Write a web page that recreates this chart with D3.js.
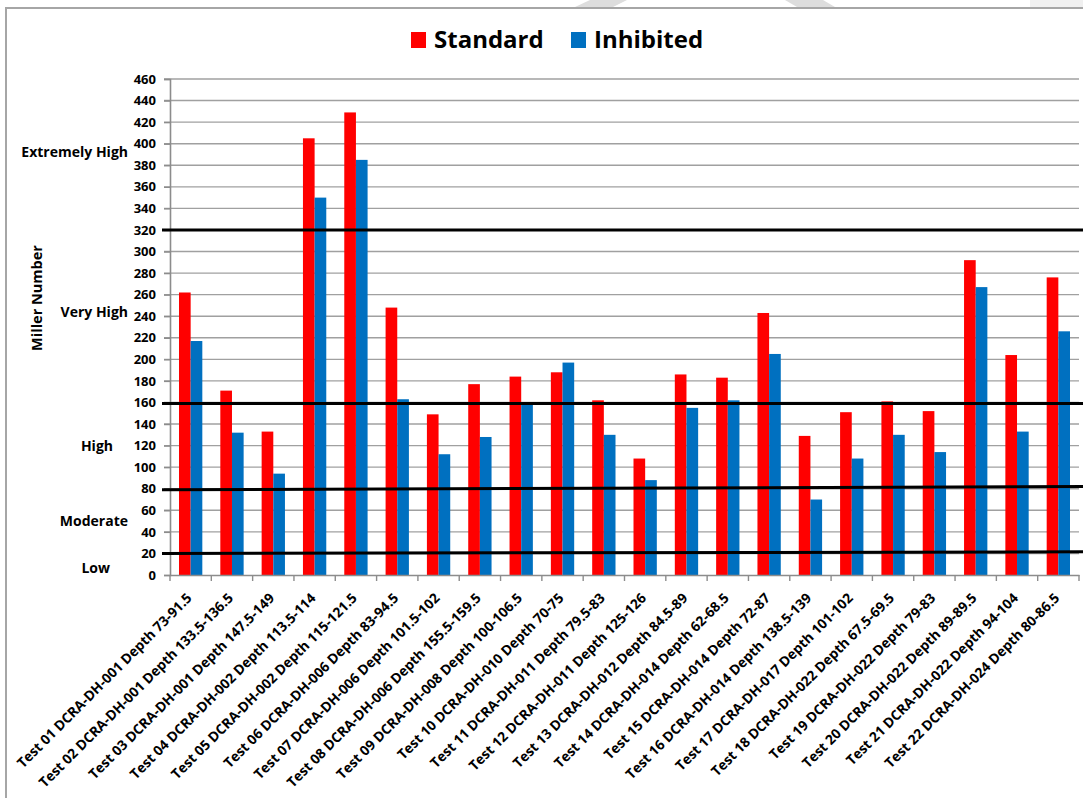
<!DOCTYPE html>
<html>
<head>
<meta charset="utf-8">
<script src="https://cdn.jsdelivr.net/npm/d3@7"></script>
<style>
	html, body { margin: 0; padding: 0; background: #fff; }
	svg { display: block; font-family: "Open Sans", "Noto Sans", sans-serif; font-weight: bold; }
</style>
</head>
<body>
<svg id="chart" width="1083" height="798"></svg>
<script>
const tests = [
	"Test 01 DCRA-DH-001 Depth 73-91.5",
	"Test 02 DCRA-DH-001 Depth 133.5-136.5",
	"Test 03 DCRA-DH-001 Depth 147.5-149",
	"Test 04 DCRA-DH-002 Depth 113.5-114",
	"Test 05 DCRA-DH-002 Depth 115-121.5",
	"Test 06 DCRA-DH-006 Depth 83-94.5",
	"Test 07 DCRA-DH-006 Depth 101.5-102",
	"Test 08 DCRA-DH-006 Depth 155.5-159.5",
	"Test 09 DCRA-DH-008 Depth 100-106.5",
	"Test 10 DCRA-DH-010 Depth 70-75",
	"Test 11 DCRA-DH-011 Depth 79.5-83",
	"Test 12 DCRA-DH-011 Depth 125-126",
	"Test 13 DCRA-DH-012 Depth 84.5-89",
	"Test 14 DCRA-DH-014 Depth 62-68.5",
	"Test 15 DCRA-DH-014 Depth 72-87",
	"Test 16 DCRA-DH-014 Depth 138.5-139",
	"Test 17 DCRA-DH-017 Depth 101-102",
	"Test 18 DCRA-DH-022 Depth 67.5-69.5",
	"Test 19 DCRA-DH-022 Depth 79-83",
	"Test 20 DCRA-DH-022 Depth 89-89.5",
	"Test 21 DCRA-DH-022 Depth 94-104",
	"Test 22 DCRA-DH-024 Depth 80-86.5"
];

const standard = [262, 171, 133, 405, 429, 248, 149, 177, 184, 188, 162, 108, 186, 183, 243, 129, 151, 161, 152, 292, 204, 276];
const inhibited = [217, 132, 94, 350, 385, 163, 112, 128, 159, 197, 130, 88, 155, 162, 205, 70, 108, 130, 114, 267, 133, 226];

const seriesNames = ["Standard", "Inhibited"];
const seriesColors = ["#ff0000", "#0070c0"];

const yTicks = d3.range(0, 461, 20);

// class boundaries drawn by hand on the original: [left value, right value]
const boundaries = [[320, 320], [159, 159], [79, 82], [20, 21.5]];

const zoneNames = ["Extremely High", "Very High", "High", "Moderate", "Low"];
const zoneValues = [392, 244, 120, 50, 6];

const svg = d3.select("#chart");

const margin = {top: 79, right: 4, bottom: 223, left: 170};
const width = 1083 - margin.left - margin.right;
const height = 798 - margin.top - margin.bottom;

// frame and faint decorations at the top edge
svg.append("polygon").attr("points", "590,0 627,0 613,7 575,7").attr("fill", "#dddddd");
svg.append("polygon").attr("points", "785,0 823,0 835,7 797,7").attr("fill", "#dddddd");
svg.append("rect").attr("x", 1030).attr("y", 0).attr("width", 53).attr("height", 7).attr("fill", "#f0f0f0");
svg.append("path").attr("d", "M6,798V8H1083").attr("fill", "none").attr("stroke", "#a6a6a6").attr("stroke-width", 2);

const g = svg.append("g").attr("transform", `translate(${margin.left},${margin.top})`);

const x = d3.scaleBand().domain(tests).range([0, width]);
const xs = d3.scaleBand().domain(seriesNames).range([9, x.bandwidth() - 9]);
const y = d3.scaleLinear().domain([0, 460]).range([height, 0]);

// gridlines
g.append("g")
	.selectAll("line")
	.data(yTicks.slice(1))
	.join("line")
	.attr("x1", -6)
	.attr("x2", width)
	.attr("y1", d => y(d))
	.attr("y2", d => y(d))
	.attr("stroke", "#a0a0a0")
	.attr("stroke-width", 1.4);

// bars
const groups = g.append("g")
	.selectAll("g")
	.data(tests)
	.join("g")
	.attr("transform", d => `translate(${x(d)},0)`);

groups.selectAll("rect")
	.data((d, i) => [standard[i], inhibited[i]].map((v, k) => ({key: seriesNames[k], v, k})))
	.join("rect")
	.attr("x", d => xs(d.key))
	.attr("width", xs.bandwidth())
	.attr("y", d => y(d.v))
	.attr("height", d => height - y(d.v))
	.attr("fill", d => seriesColors[d.k]);

// y axis
const yAxis = g.append("g")
	.call(d3.axisLeft(y).tickValues(yTicks).tickSize(6).tickPadding(8));
yAxis.select(".domain").attr("stroke", "#8c8c8c").attr("stroke-width", 1.6);
yAxis.selectAll(".tick line").attr("stroke", "#8c8c8c").attr("stroke-width", 1.4);
yAxis.selectAll("text").attr("font-size", 13).attr("font-weight", "bold").attr("fill", "#000")
	.attr("font-family", "'Open Sans', 'Noto Sans', sans-serif");

// x axis
const xAxis = g.append("g")
	.attr("transform", `translate(0,${height})`)
	.call(d3.axisBottom(x).tickSize(0).tickFormat(""));
xAxis.select(".domain").attr("stroke", "#8c8c8c").attr("stroke-width", 1.6);

g.append("g")
	.selectAll("line")
	.data(d3.range(tests.length + 1))
	.join("line")
	.attr("x1", i => i * x.step())
	.attr("x2", i => i * x.step())
	.attr("y1", height)
	.attr("y2", height + 6)
	.attr("stroke", "#8c8c8c")
	.attr("stroke-width", 1.4);

g.append("g")
	.selectAll("text")
	.data(tests)
	.join("text")
	.attr("transform", d => `translate(${x(d) + x.bandwidth() / 2 + 2},${height + 24}) rotate(-45)`)
	.attr("text-anchor", "end")
	.attr("font-size", 13.8)
	.attr("fill", "#000")
	.text(d => d);

// class boundaries
g.append("g")
	.selectAll("line")
	.data(boundaries)
	.join("line")
	.attr("x1", -8)
	.attr("x2", width + margin.right)
	.attr("y1", d => y(d[0]))
	.attr("y2", d => y(d[1]))
	.attr("stroke", "#000")
	.attr("stroke-width", 3);

// zone labels
const zoneRight = {"High": 113, "Low": 110};
svg.append("g")
	.selectAll("text")
	.data(zoneNames)
	.join("text")
	.attr("x", d => zoneRight[d] || 128)
	.attr("y", (d, i) => margin.top + y(zoneValues[i]))
	.attr("dy", "0.35em")
	.attr("text-anchor", "end")
	.attr("font-size", 14)
	.attr("fill", "#000")
	.text(d => d);

svg.append("text")
	.attr("transform", `translate(42,298) rotate(-90)`)
	.attr("text-anchor", "middle")
	.attr("font-size", 14.5)
	.attr("fill", "#000")
	.text("Miller Number");

// legend
const legendX = [411, 571];
const legend = svg.append("g")
	.selectAll("g")
	.data(seriesNames)
	.join("g")
	.attr("transform", (d, i) => `translate(${legendX[i]},32)`);

legend.append("rect")
	.attr("width", 15)
	.attr("height", 16)
	.attr("fill", (d, i) => seriesColors[i]);

legend.append("text")
	.attr("x", 23)
	.attr("y", 16)
	.attr("font-size", 24)
	.attr("fill", "#000")
	.text(d => d);
</script>
</body>
</html>
